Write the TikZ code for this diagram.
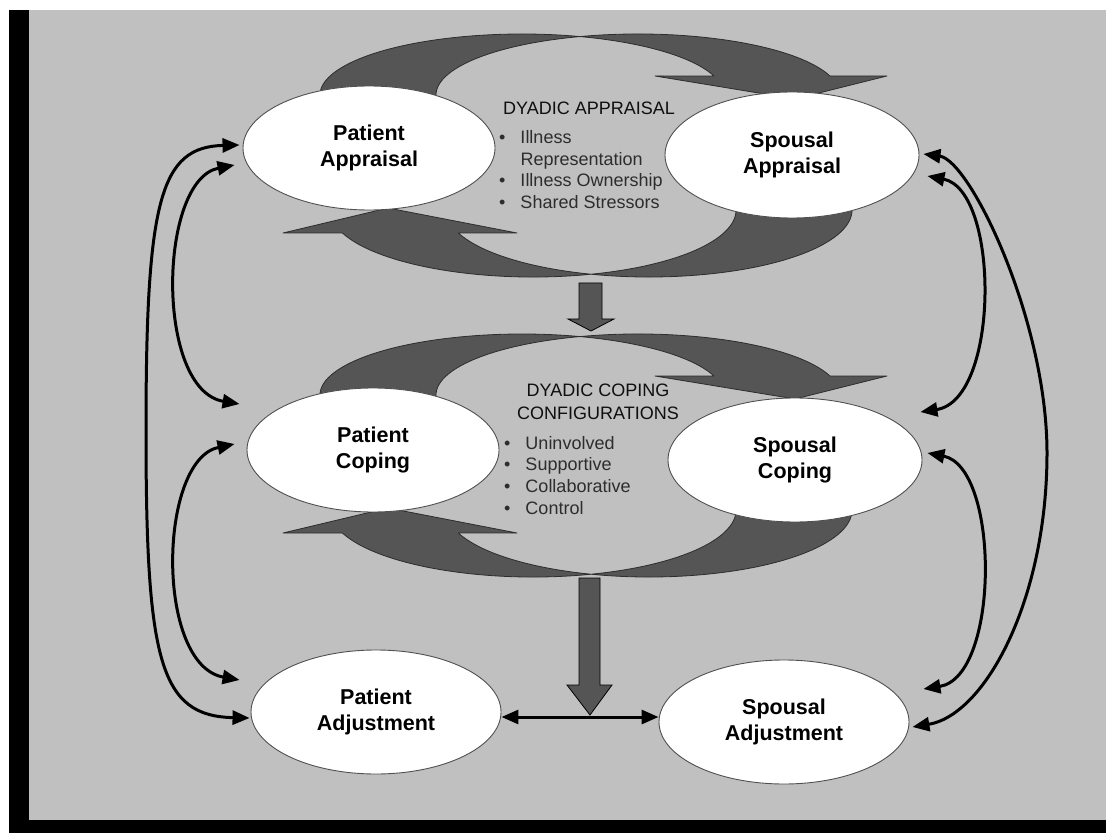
\documentclass[tikz,border=0pt]{standalone}
\usepackage{fontspec}
\setmainfont{Liberation Sans}
\usetikzlibrary{arrows.meta,shapes.geometric}
\definecolor{bggray}{RGB}{192,192,192}
\definecolor{bandfill}{RGB}{85,85,85}
\definecolor{bandline}{RGB}{45,45,45}
\definecolor{ovalline}{RGB}{80,80,80}
\definecolor{listtext}{RGB}{45,45,45}
\definecolor{headtext}{RGB}{15,15,15}
\newcommand\drawbandpair{%
  \path[band] (326.9,110.8) arc[start angle=195,end angle=18.14,x radius=202pt,y radius=61pt]
    -- (655,76) -- (795,99) -- (887,76) -- (830,76)
    arc[start angle=18.14,end angle=195,x radius=202pt,y radius=61pt] -- cycle;
  \path[band] (342.35,233) arc[start angle=200.06,end angle=375,x radius=203pt,y radius=67pt]
    -- (845.08,192.66)
    arc[start angle=375,end angle=200.06,x radius=203pt,y radius=67pt]
    -- (517,233) -- (388,208) -- (283,233) -- cycle;
}
\begin{document}
\begin{tikzpicture}[x=1pt,y=-1pt,
  band/.style={fill=bandfill,draw=bandline,line width=0.8pt,line join=round},
  oval/.style={ellipse,draw=ovalline,fill=white,line width=0.9pt,inner sep=0pt,align=center,text=black,font=\fontsize{21.5}{25.5}\selectfont\bfseries},
  heading/.style={inner sep=0pt,align=center,text=headtext,font=\fontsize{18}{23}\selectfont},
  items/.style={inner sep=0pt,text=listtext,font=\fontsize{18}{21.7}\selectfont,anchor=base west},
  link/.style={line width=3pt,{Triangle[length=17pt,width=14pt]}-{Triangle[length=17pt,width=14pt]}},
  blockarrow/.style={fill=bandfill,draw=black,line width=0.8pt,line join=miter}
]
\useasboundingbox (0,0) rectangle (1106,834);
\fill[white] (0,0) rectangle (1106,834);
\fill[black] (9,10) rectangle (1106,833);
\fill[bggray] (29,10) rectangle (1106,820);

% curved band arrows
\begin{scope}
  \drawbandpair
\end{scope}
\begin{scope}[shift={(0,300)}]
  \drawbandpair
\end{scope}

% block arrows
\path[blockarrow] (579,283) -- (602,283) -- (602,319) -- (614,319) -- (591,331) -- (568,319) -- (579,319) -- cycle;
\path[blockarrow] (579,578) -- (600,578) -- (600,685) -- (612,685) -- (590,715) -- (567,685) -- (579,685) -- cycle;

% ellipses
\node[oval, minimum width=252pt, minimum height=124pt] (pa) at (369,148) {Patient\\Appraisal};
\node[oval, minimum width=254pt, minimum height=126pt] (sa) at (792,155) {Spousal\\Appraisal};
\node[oval, minimum width=252pt, minimum height=124pt] (pc) at (373,450) {Patient\\Coping};
\node[oval, minimum width=254pt, minimum height=124pt] (sc) at (795,460) {Spousal\\Coping};
\node[oval, minimum width=250pt, minimum height=124pt] (padj) at (376,712) {Patient\\Adjustment};
\node[oval, minimum width=250pt, minimum height=124pt] (sadj) at (784,722) {Spousal\\Adjustment};

% central texts
\node[heading] (dyapp) at (589,108) {DYADIC APPRAISAL};
\node[items] (appitems) at (499,143.5) {\begin{tabular}[t]{@{}l@{\hspace{15pt}}l@{}}
  • & Illness\\
    & Representation\\
  • & Illness Ownership\\
  • & Shared Stressors
\end{tabular}};
\node[heading] (dycop) at (598,401.5) {DYADIC COPING\\CONFIGURATIONS};
\node[items] (copitems) at (504,449) {\begin{tabular}[t]{@{}l@{\hspace{15pt}}l@{}}
  • & Uninvolved\\
  • & Supportive\\
  • & Collaborative\\
  • & Control
\end{tabular}};

% connectors
\draw[link] ([shift={(-3,-3)}]pa.west) .. controls (160,147) and (146,200) .. (146,431) .. controls (146,662) and (160,716) .. ([shift={(-1,6)}]padj.west);
\draw[link] ([shift={(-8,17)}]pa.west) .. controls (158,180) and (155,390) .. ([shift={(-7,-46)}]pc.west);
\draw[link] ([shift={(-12,-6)}]pc.west) .. controls (158,460) and (155,665) .. ([shift={(-11,-32)}]padj.west);
\draw[link] ([shift={(4,-1)}]sa.east) .. controls (970,160) and (1047,320) .. (1047,453) .. controls (1047,600) and (985,715) .. ([shift={(3,5)}]sadj.east);
\draw[link] ([shift={(8,21)}]sa.east) .. controls (1000,190) and (1000,400) .. ([shift={(-2,-48)}]sc.east);
\draw[link] ([shift={(5,-7)}]sc.east) .. controls (1000,467) and (1000,677) .. ([shift={(14,-33)}]sadj.east);
\draw[link] ([shift={(0,5)}]padj.east) -- ([shift={(0,-5)}]sadj.west);
\end{tikzpicture}
\end{document}
